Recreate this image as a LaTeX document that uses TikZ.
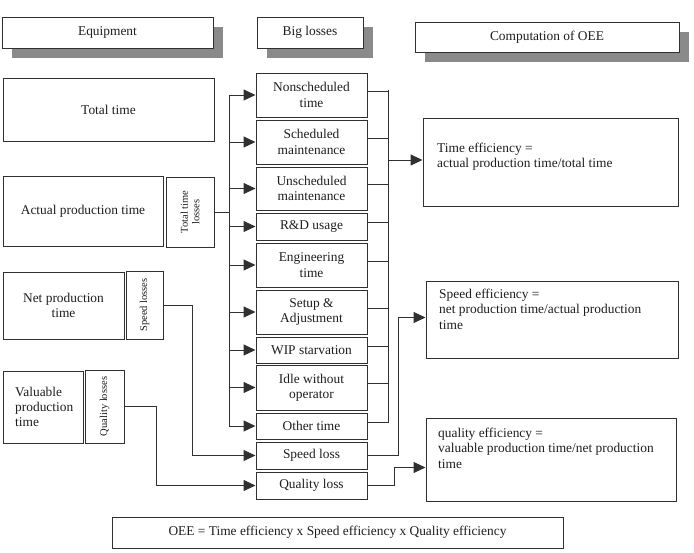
\documentclass[tikz,border=0pt]{standalone}
\usepackage{fontspec}
\setmainfont{Liberation Serif}
\usetikzlibrary{arrows.meta,shadows}
\definecolor{linec}{HTML}{303030}
\definecolor{shad}{HTML}{8A8A8A}
\definecolor{txt}{HTML}{1E1E1E}
\newcommand\mf{\fontsize{13.4}{15.3}\selectfont}
\newcommand\smallfnt{\fontsize{10.5}{11.5}\selectfont}
\newcommand\bx[7]{\node[box,minimum width={(#4-#2)*1pt},minimum height={(#5-#3)*1pt},#6] (#1) at ({(#2+#4)/2},{(#3+#5)/2}) {#7};}
\tikzset{
  box/.style={draw=linec,line width=1pt,fill=white,inner sep=0pt,align=center,font=\mf,text=txt},
  hdr/.style={drop shadow={shadow xshift=10pt,shadow yshift=-10pt,fill=shad,opacity=1}},
  vlab/.style={rotate=90,align=center,font=\smallfnt,text=txt,inner sep=0pt},
  tlab/.style={anchor=north west,align=left,font=\mf,text=txt,inner sep=0pt},
  ln/.style={draw=linec,line width=1pt},
  arr/.style={ln,-{Triangle[length=12pt,width=11pt]}}
}
\begin{document}
\begin{tikzpicture}[x=1pt,y=-1pt]
\useasboundingbox (0,0) rectangle (694,552);
% headers
\bx{eq}{2}{17}{213}{48}{hdr}{Equipment}
\bx{bl}{257}{17}{363}{48}{hdr}{Big losses}
\bx{co}{415}{22}{679}{52}{hdr}{Computation of OEE}
% equipment column
\bx{tt}{3}{78}{214}{141}{}{Total time}
\bx{apt}{3}{176}{163}{246}{}{Actual production time}
\bx{ttl}{166}{177}{214}{247}{}{}
\node[vlab] at (ttl) {Total time\\losses};
\bx{npt}{3}{272}{124}{339}{}{Net production\\time}
\bx{spl}{126}{271}{163}{339}{}{}
\node[vlab] at (spl) {Speed losses};
\bx{vpt}{3}{371}{83}{443}{}{}
\node[anchor=west,align=left,font=\mf,text=txt,inner sep=0pt] (vptt) at (15,407) {Valuable\\production\\time};
\bx{qll}{85}{370}{124}{443}{}{}
\node[vlab] at (qll) {Quality losses};
% big losses column
\bx{m1}{256}{73}{367}{117}{}{Nonscheduled\\time}
\bx{m2}{256}{120}{367}{164}{}{Scheduled\\maintenance}
\bx{m3}{256}{167}{367}{210}{}{Unscheduled\\maintenance}
\bx{m4}{256}{213}{367}{240}{}{R\&D usage}
\bx{m5}{256}{243}{367}{287}{}{Engineering\\time}
\bx{m6}{256}{290}{367}{334}{}{Setup \&\\Adjustment}
\bx{m7}{256}{337}{367}{363}{}{WIP starvation}
\bx{m8}{256}{365}{367}{410}{}{Idle without\\operator}
\bx{m9}{256}{413}{367}{439}{}{Other time}
\bx{sl}{256}{442}{367}{469}{}{Speed loss}
\bx{ql}{256}{472}{367}{499}{}{Quality loss}
% computation column
\bx{te}{423}{118}{678}{206}{}{}
\node[tlab] at (437,143) {Time efficiency =\\actual production time/total time};
\bx{se}{426}{281}{678}{358}{}{}
\node[tlab] at (439,289) {Speed efficiency =\\net production time/actual production\\time};
\bx{qe}{426}{418}{676}{501}{}{}
\node[tlab] at (438,428) {quality efficiency =\\valuable production time/net production\\time};
\bx{oee}{112}{517}{563}{548}{}{OEE = Time efficiency x Speed efficiency x Quality efficiency}
% connectors
\coordinate (lb) at (229,0);
\coordinate (rb) at (388,0);
\coordinate (sv) at (398,0);
\coordinate (qv) at (394,0);
\coordinate (c1) at (192,0);
\coordinate (c2) at (156,0);
\coordinate (tin) at ([yshift=2pt]te.west);
\coordinate (sin) at ([yshift=2pt]se.west);
\coordinate (qin) at ([yshift=-8pt]qe.west);
\draw[ln] (lb |- m1.west) -- (lb |- m9.west);
\foreach \m in {m1,m2,m3,m4,m5,m6,m7,m8,m9} \draw[arr] (lb |- \m.west) -- (\m.west);
\draw[ln] (ttl.east) -- (lb |- ttl.east);
\draw[ln] ([yshift=5pt]rb |- m1.east) -- ([yshift=3pt]rb |- m9.east);
\foreach \m in {m1,m2,m3,m4,m5,m6,m7,m8,m9} \draw[ln] ([yshift=4pt]\m.east) -- ([yshift=4pt]rb |- \m.east);
\draw[arr] (rb |- tin) -- (tin);
\draw[arr] (sl.east) -- (sv |- sl.east) -- (sv |- sin) -- (sin);
\draw[arr] (ql.east) -- (qv |- ql.east) -- (qv |- qin) -- (qin);
\draw[arr] (spl.east) -- (c1 |- spl.east) -- (c1 |- sl.west) -- (sl.west);
\draw[arr] (qll.east) -- (c2 |- qll.east) -- (c2 |- ql.west) -- (ql.west);
\end{tikzpicture}
\end{document}
